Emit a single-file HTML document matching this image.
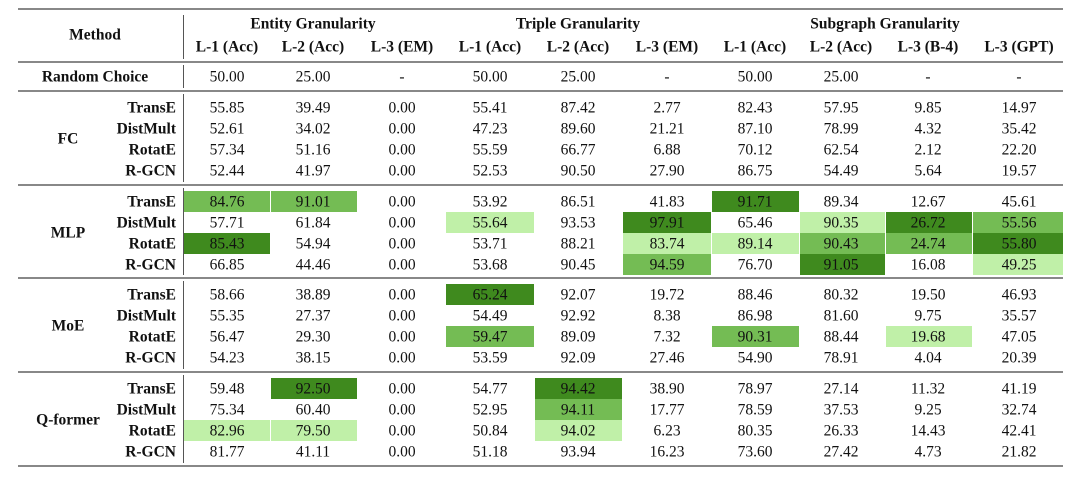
<!DOCTYPE html>
<html><head><meta charset="utf-8"><style>
body{margin:0;background:#fff;width:1080px;height:478px;position:relative;overflow:hidden;font-family:"Liberation Serif",serif;color:#111}
.t{position:absolute;font-size:15.5px;white-space:nowrap;transform:translate(-50%,-50%);line-height:1}
.r{position:absolute;font-size:15.5px;white-space:nowrap;transform:translate(-100%,-50%);line-height:1;font-weight:bold}
.b{font-weight:bold}
.rule{position:absolute;left:18px;width:1045px;background:#888}
.cell{position:absolute}
</style></head><body>
<div id="root"></div>
<script>
const colX=[227,313,402,490,578,667,755,841,928,1019];
const bounds=[183,270,357,445,534,622,711,799,885,972,1063];
const headers=["L-1 (Acc)","L-2 (Acc)","L-3 (EM)","L-1 (Acc)","L-2 (Acc)","L-3 (EM)","L-1 (Acc)","L-2 (Acc)","L-3 (B-4)","L-3 (GPT)"];
const groupNames=["FC","MLP","MoE","Q-former"];
const models=["TransE","DistMult","RotatE","R-GCN"];
const randomRow=["50.00","25.00","-","50.00","25.00","-","50.00","25.00","-","-"];
const fcVals=[
["55.85","39.49","0.00","55.41","87.42","2.77","82.43","57.95","9.85","14.97"],
["52.61","34.02","0.00","47.23","89.60","21.21","87.10","78.99","4.32","35.42"],
["57.34","51.16","0.00","55.59","66.77","6.88","70.12","62.54","2.12","22.20"],
["52.44","41.97","0.00","52.53","90.50","27.90","86.75","54.49","5.64","19.57"]];
const mlpVals=[
["84.76","91.01","0.00","53.92","86.51","41.83","91.71","89.34","12.67","45.61"],
["57.71","61.84","0.00","55.64","93.53","97.91","65.46","90.35","26.72","55.56"],
["85.43","54.94","0.00","53.71","88.21","83.74","89.14","90.43","24.74","55.80"],
["66.85","44.46","0.00","53.68","90.45","94.59","76.70","91.05","16.08","49.25"]];
const moeVals=[
["58.66","38.89","0.00","65.24","92.07","19.72","88.46","80.32","19.50","46.93"],
["55.35","27.37","0.00","54.49","92.92","8.38","86.98","81.60","9.75","35.57"],
["56.47","29.30","0.00","59.47","89.09","7.32","90.31","88.44","19.68","47.05"],
["54.23","38.15","0.00","53.59","92.09","27.46","54.90","78.91","4.04","20.39"]];
const qVals=[
["59.48","92.50","0.00","54.77","94.42","38.90","78.97","27.14","11.32","41.19"],
["75.34","60.40","0.00","52.95","94.11","17.77","78.59","37.53","9.25","32.74"],
["82.96","79.50","0.00","50.84","94.02","6.23","80.35","26.33","14.43","42.41"],
["81.77","41.11","0.00","51.18","93.94","16.23","73.60","27.42","4.73","21.82"]];
const fcShade=[[0,0,0,0,0,0,0,0,0,0],[0,0,0,0,0,0,0,0,0,0],[0,0,0,0,0,0,0,0,0,0],[0,0,0,0,0,0,0,0,0,0]];
const mlpShade=[[2,2,0,0,0,0,3,0,0,0],[0,0,0,1,0,3,0,1,3,2],[3,0,0,0,0,1,1,2,2,3],[0,0,0,0,0,2,0,3,0,1]];
const moeShade=[[0,0,0,3,0,0,0,0,0,0],[0,0,0,0,0,0,0,0,0,0],[0,0,0,2,0,0,2,0,1,0],[0,0,0,0,0,0,0,0,0,0]];
const qShade=[[0,3,0,0,3,0,0,0,0,0],[0,0,0,0,2,0,0,0,0,0],[1,1,0,0,1,0,0,0,0,0],[0,0,0,0,0,0,0,0,0,0]];
const shadeColors=["","#c0f0a8","#74bc54","#3f8a1e"];
const root=document.getElementById('root');
function add(cls,txt,x,y,name){const d=document.createElement('div');d.className=cls;d.textContent=txt;d.style.left=x+'px';d.style.top=y+'px';


root.appendChild(d);return d;}
function rule(y,h,name){const d=document.createElement('div');d.className='rule';d.style.top=y+'px';d.style.height=h+'px';


root.appendChild(d);}
rule(8,2,'top-rule');rule(61,2,'header-rule');rule(90,2,'random-rule');rule(184,2,'fc-rule');rule(277,2,'mlp-rule');rule(371,2,'moe-rule');rule(465,2,'bottom-rule');
// vertical separators
[[13,61],[63,90],[92,184],[186,277],[279,371],[373,465]].forEach(([a,b])=>{const d=document.createElement('div');d.style.cssText=`position:absolute;left:183px;top:${a+2}px;height:${b-a-4}px;width:1px;background:#555`;


root.appendChild(d);});
add('t b','Method',95,35,'method-header');
add('t b','Entity Granularity',313,24,'entity-granularity-header');
add('t b','Triple Granularity',578,24,'triple-granularity-header');
add('t b','Subgraph Granularity',885,24,'subgraph-granularity-header');
headers.forEach((h,i)=>add('t b',h,colX[i],47,'metric-header'));
add('t b','Random Choice',95,77,'random-choice-label');
randomRow.forEach((v,i)=>add('t',v,colX[i],77,'random-choice-value'));
const groups=[[fcVals,fcShade,91],[mlpVals,mlpShade,185],[moeVals,moeShade,278],[qVals,qShade,372]];
groups.forEach(([vals,shade,top],g)=>{
  const first=top+16.5;
  add('t b',groupNames[g],68,first+31.5,'group-label');
  vals.forEach((row,r)=>{
    const y=first+21*r;
    add('r',models[r],176,y,'model-label');
    row.forEach((v,c)=>{
      const s=shade[r][c];
      if(s){const d=document.createElement('div');d.className='cell';
        d.style.cssText=`position:absolute;left:${bounds[c]+1}px;top:${y-10.5}px;width:${bounds[c+1]-bounds[c]-1}px;height:21px;background:${shadeColors[s]}`;
        
        
        root.appendChild(d);}
      add('t',v,colX[c],y,'value-cell');
    });
  });
});
</script>
</body></html>
